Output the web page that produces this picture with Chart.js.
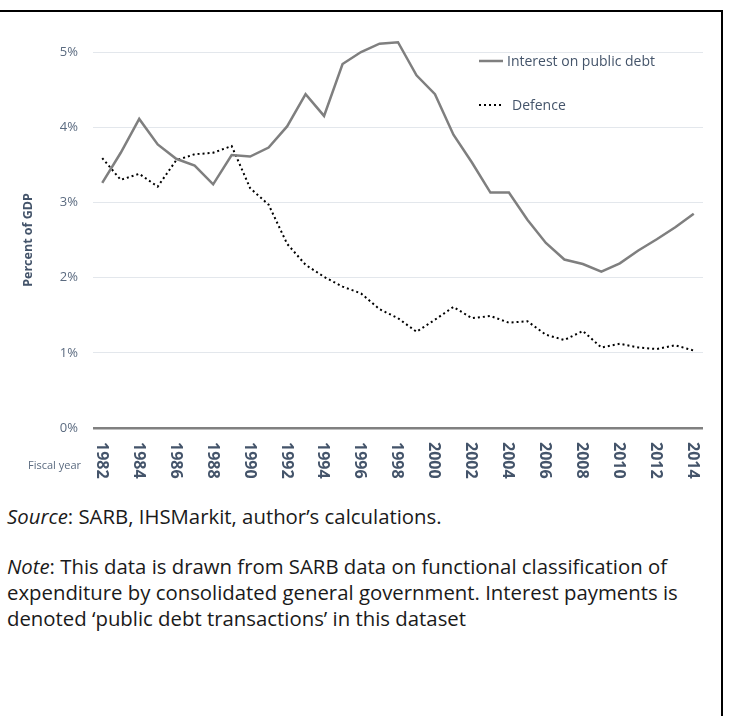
<!DOCTYPE html>
<html>
<head>
<meta charset="utf-8">
<script src="https://cdn.jsdelivr.net/npm/chart.js@4.4.1/dist/chart.umd.min.js"></script>
<style>
  body { margin: 0; background: #fff; width: 740px; height: 716px; overflow: hidden; position: relative; font-family: "Open Sans", sans-serif; }
  #frame { position: absolute; left: -5px; top: 10px; width: 728px; height: 720px; box-sizing: border-box; border-top: 2px solid #000; border-right: 2px solid #000; }
  #wrap { position: absolute; left: 0; top: 0; width: 740px; height: 490px; }
  .txt { position: absolute; left: 7px; font-size: 20.35px; color: #1a1a1a; white-space: nowrap; }
</style>
</head>
<body>
<div id="frame"></div>
<div id="wrap"><canvas id="grafico"></canvas></div>
<div class="txt" style="top:502px; line-height:28px;"><i>Source</i>: SARB, IHSMarkit, author’s calculations.</div>
<div class="txt" style="top:553px; line-height:26px;"><i>Note</i>: This data is drawn from SARB data on functional classification of<br>expenditure by consolidated general government. Interest payments is<br>denoted ‘public debt transactions’ in this dataset</div>
<script>
const anos = [];
for (let a = 1982; a <= 2014; a++) anos.push(String(a));

const rotulosX = ["1982", "1984", "1986", "1988", "1990", "1992", "1994", "1996", "1998",
  "2000", "2002", "2004", "2006", "2008", "2010", "2012", "2014"];

const juros = [3.26, 3.66, 4.11, 3.77, 3.58, 3.49, 3.24, 3.63, 3.61, 3.73, 4.01,
  4.44, 4.15, 4.84, 5.00, 5.11, 5.13, 4.69, 4.44, 3.90, 3.53, 3.13, 3.13, 2.77,
  2.46, 2.24, 2.18, 2.08, 2.19, 2.36, 2.51, 2.67, 2.85];

const defesa = [3.59, 3.30, 3.38, 3.21, 3.56, 3.64, 3.66, 3.75, 3.19, 2.97, 2.45,
  2.17, 2.01, 1.88, 1.79, 1.58, 1.46, 1.28, 1.44, 1.61, 1.46, 1.49, 1.40, 1.42,
  1.24, 1.17, 1.29, 1.07, 1.12, 1.07, 1.05, 1.10, 1.03];

const rotulosY = ["0%", "1%", "2%", "3%", "4%", "5%"];

// desenha anos girados, "Fiscal year" e a legenda
const pluginExtras = {
  id: "extras",
  afterDraw(chart) {
    const ctx = chart.ctx;
    const x = chart.scales.x;
    const area = chart.chartArea;
    ctx.save();
    ctx.fillStyle = "#44546a";
    ctx.font = "bold 16px 'Open Sans'";
    ctx.textAlign = "left";
    ctx.textBaseline = "middle";
    for (let i = 0; i < anos.length; i++) {
      if (!rotulosX.includes(anos[i])) continue;
      ctx.save();
      ctx.translate(x.getPixelForValue(i) - 1, area.bottom + 14);
      ctx.rotate(Math.PI / 2);
      ctx.fillText(anos[i], 0, 0);
      ctx.restore();
    }
    ctx.font = "11px 'Open Sans'";
    ctx.fillStyle = "#5b6b80";
    ctx.textAlign = "right";
    ctx.fillText("Fiscal year", 81, 466);

    // legenda
    const itens = chart.data.datasets;
    const posY = [61, 105];
    ctx.font = "14px 'Open Sans'";
    ctx.fillStyle = "#44546a";
    ctx.textAlign = "left";
    for (let i = 0; i < itens.length; i++) {
      ctx.save();
      ctx.strokeStyle = itens[i].borderColor;
      ctx.lineWidth = itens[i].borderWidth;
      ctx.setLineDash(itens[i].borderDash || []);
      ctx.beginPath();
      ctx.moveTo(479, posY[i]);
      ctx.lineTo(503, posY[i]);
      ctx.stroke();
      ctx.restore();
      ctx.fillText(itens[i].label, i == 0 ? 507 : 512, posY[i] + 1);
    }
    ctx.restore();
  },
};

new Chart(document.getElementById("grafico"), {
  type: "line",
  data: {
    labels: anos,
    datasets: [
      {
        label: "Interest on public debt",
        data: juros,
        borderColor: "#7f7f7f",
        borderWidth: 2.5,
        pointRadius: 0,
        tension: 0,
        clip: false,
      },
      {
        label: "Defence",
        data: defesa,
        borderColor: "#000000",
        borderWidth: 2,
        borderDash: [2, 3], // pontilhado
        pointRadius: 0,
        tension: 0,
        clip: false,
      },
    ],
  },
  plugins: [pluginExtras],
  options: {
    responsive: true,
    maintainAspectRatio: false,
    animation: false,
    layout: { padding: { top: 52, right: 37, left: 0, bottom: 0 } },
    plugins: {
      legend: { display: false },
      tooltip: { enabled: false },
    },
    scales: {
      x: {
        offset: true,
        grid: { display: false },
        border: { display: false },
        ticks: { display: false },
        afterFit(scale) { scale.height = 62; },
      },
      y: {
        min: 0,
        max: 5,
        border: { display: false },
        grid: {
          drawTicks: false,
          color: (c) => (c.tick && c.tick.value === 0 ? "#808080" : "#e3e7ec"),
          lineWidth: (c) => (c.tick && c.tick.value === 0 ? 2.5 : 1),
        },
        ticks: {
          stepSize: 1,
          padding: 15,
          color: "#5b6b80",
          font: { family: "'Open Sans'", size: 13 },
          callback: (v) => rotulosY[v],
        },
        title: {
          display: true,
          text: "Percent of GDP",
          color: "#44546a",
          font: { family: "'Open Sans'", size: 12.5, weight: "bold" },
          padding: { top: 21, bottom: 0 },
        },
        afterFit(scale) { scale.width = 93; },
      },
    },
  },
});
</script>
</body>
</html>
